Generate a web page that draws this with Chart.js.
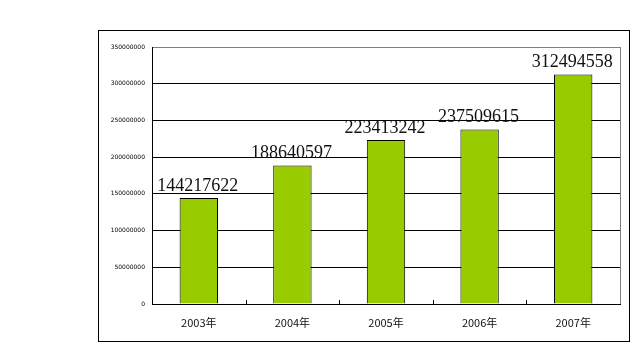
<!DOCTYPE html>
<html>
<head>
<meta charset="utf-8">
<script src="https://cdn.jsdelivr.net/npm/chart.js@4/dist/chart.umd.min.js"></script>
<style>
html,body{margin:0;padding:0;background:#fff;}
#wrap{width:634px;height:360px;position:relative;}
</style>
</head>
<body>
<div id="wrap"><canvas id="c" width="634" height="360"></canvas></div>
<script>
const categories = ["2003年", "2004年", "2005年", "2006年", "2007年"];
const values = [144217622, 188640597, 223413242, 237509615, 312494558];
const yMin = 0;
const yMax = 350000000;
const yStep = 50000000;

const framePlugin = {
  id: 'frame',
  beforeDraw(chart) {
    const ctx = chart.ctx;
    ctx.save();
    ctx.fillStyle = '#fff';
    ctx.fillRect(0, 0, chart.width, chart.height);
    ctx.strokeStyle = '#000';
    ctx.lineWidth = 1;
    ctx.strokeRect(98.5, 30.5, 531, 311);
    ctx.restore();
  },
  afterDraw(chart) {
    const ctx = chart.ctx;
    const a = chart.chartArea;
    const xs = chart.scales.x;
    ctx.save();
    ctx.strokeStyle = '#808080';
    ctx.lineWidth = 1;
    ctx.beginPath();
    ctx.moveTo(Math.round(a.right) + 0.5, a.top);
    ctx.lineTo(Math.round(a.right) + 0.5, a.bottom);
    ctx.stroke();
    ctx.strokeStyle = '#000';
    ctx.beginPath();
    for (let i = 1; i < categories.length; i++) {
      const x = Math.round((xs.getPixelForValue(i - 1) + xs.getPixelForValue(i)) / 2) + 0.5;
      ctx.moveTo(x, a.bottom - 4);
      ctx.lineTo(x, a.bottom);
    }
    ctx.stroke();
    ctx.restore();
  },
  afterDatasetsDraw(chart) {
    const ctx = chart.ctx;
    const meta = chart.getDatasetMeta(0);
    ctx.save();
    ctx.font = '18px "Liberation Serif", "Times New Roman", serif';
    ctx.fillStyle = '#111';
    ctx.textAlign = 'center';
    ctx.textBaseline = 'bottom';
    meta.data.forEach((bar, i) => {
      ctx.fillText(String(values[i]), bar.x - 1, bar.y - 3);
    });
    ctx.restore();
  }
};

new Chart(document.getElementById('c'), {
  type: 'bar',
  data: {
    labels: categories,
    datasets: [{
      data: values,
      backgroundColor: '#99CC00',
      borderColor: '#000',
      borderWidth: 1,
      categoryPercentage: 1,
      barPercentage: 0.41
    }]
  },
  options: {
    responsive: false,
    animation: false,
    devicePixelRatio: 1,
    layout: { padding: { left: 100, right: 14, top: 47, bottom: 20 } },
    plugins: { legend: { display: false }, tooltip: { enabled: false } },
    scales: {
      x: {
        afterFit(s) { s.height = 36; },
        grid: { display: false, drawTicks: false },
        border: { display: true, color: '#000', width: 1 },
        ticks: {
          padding: 12,
          color: '#111',
          font: { size: 11, family: '"Noto Sans CJK SC", "DejaVu Sans", sans-serif' }
        }
      },
      y: {
        min: yMin,
        max: yMax,
        afterFit(s) { s.width = 52; },
        grid: {
          drawTicks: false,
          color: (c) => (c.tick && c.tick.value === yMax) ? '#808080' : '#000',
          lineWidth: 1
        },
        border: { display: true, color: '#000', width: 1 },
        ticks: {
          stepSize: yStep,
          padding: 7,
          color: '#000',
          font: { size: 6, family: '"DejaVu Sans", sans-serif' },
          callback: (v) => String(v)
        }
      }
    }
  },
  plugins: [framePlugin]
});
</script>
</body>
</html>
